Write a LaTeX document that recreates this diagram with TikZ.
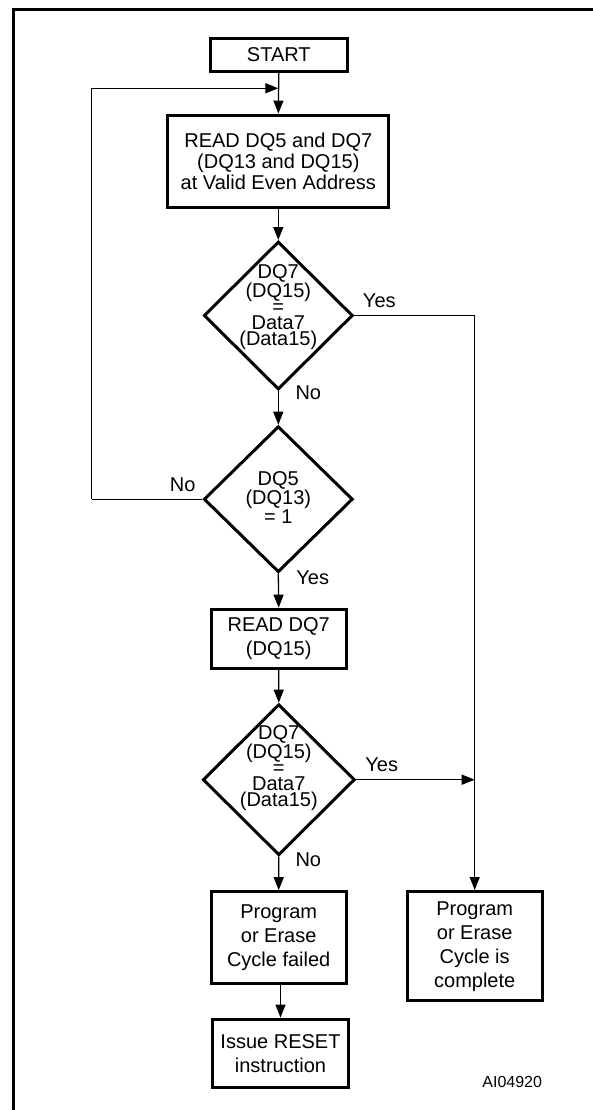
\documentclass[tikz,border=0pt]{standalone}
\usepackage{fontspec}
\setmainfont{Liberation Sans}
\usetikzlibrary{arrows.meta,shapes.geometric}
\begin{document}
\begin{tikzpicture}[x=1pt,y=-1pt,
  every node/.style={font=\fontsize{20}{24}\selectfont},
  stepbox/.style={draw,line width=3.3pt,inner sep=0pt,align=center},
  decision/.style={draw,diamond,line width=3pt,inner sep=0pt},
  dtext/.style={align=center,inner sep=0pt,font=\fontsize{20}{16}\selectfont},
  lbl/.style={inner sep=0pt},
  conn/.style={line width=1.3pt},
  arr/.style={conn,-{Triangle[length=13pt,width=10pt]}}
]
\useasboundingbox (0,0) rectangle (593,1110);
% frame
\draw[line width=2.8pt] (593,9.3) -- (13.3,9.3) -- (13.3,1110);

\node[stepbox,minimum width=137pt,minimum height=33pt] (start) at (278.8,55) {START};
\node[stepbox,minimum width=221pt,minimum height=92pt,font=\fontsize{20}{21}\selectfont] (read1) at (278.3,161.2) {READ DQ5 and DQ7\\(DQ13 and DQ15)\\at Valid Even Address};
\node[decision,minimum width=149pt,minimum height=148pt] (d1) at (278.3,315.5) {};
\node[dtext] (d1t) at (278.3,307) {DQ7\\(DQ15)\\=\\Data7\\(Data15)};
\node[decision,minimum width=149pt,minimum height=146pt] (d2) at (278.3,499.2) {};
\node[align=center,inner sep=0pt,font=\fontsize{20}{19.2}\selectfont] (d2t) at (278.3,497.5) {DQ5\\(DQ13)\\= 1};
\node[stepbox,minimum width=135pt,minimum height=59pt] (read2) at (278.7,638.8) {READ DQ7\\(DQ15)};
\node[decision,minimum width=152pt,minimum height=151pt] (d3) at (278.8,779.7) {};
\node[dtext] (d3t) at (278.8,768) {DQ7\\(DQ15)\\=\\Data7\\(Data15)};
\node[stepbox,minimum width=135pt,minimum height=92pt] (fail) at (278.7,937.8) {Program\\or Erase\\Cycle failed};
\node[stepbox,minimum width=136pt,minimum height=68pt] (reset) at (280.5,1053.3) {Issue RESET\\instruction};
\node[stepbox,minimum width=135pt,minimum height=109pt] (comp) at (474.7,946.2) {Program\\or Erase\\Cycle is\\complete};

\coordinate (join1) at (278.3,88.3);
\coordinate (loopb) at (91.7,499.2);
\coordinate (loopt) at (91.7,88.3);
\coordinate (yescorner) at (474.7,315.5);
\coordinate (join2) at (474.7,779.7);

\draw[arr] (start.south) -- (read1.north);
\draw[arr] (loopb) -- (loopt) -- (join1);
\draw[conn] (d2.west) -- (loopb);
\draw[arr] (read1.south) -- (d1.north);
\draw[arr] (d1.south) -- (d2.north);
\draw[arr] (d1.east) -- (yescorner) -- (comp.north);
\draw[arr] (d2.south) -- (read2.north);
\draw[arr] (read2.south) -- (d3.north);
\draw[arr] (d3.east) -- (join2);
\draw[arr] (d3.south) -- (fail.north);
\draw[arr] (reset.north |- fail.south) -- (reset.north);

\node[lbl] (y1) at (379.3,301) {Yes};
\node[lbl] (n1) at (308.3,392.7) {No};
\node[lbl] (n2) at (182.6,485) {No};
\node[lbl] (y2) at (312.7,577.3) {Yes};
\node[lbl] (y3) at (381.7,765) {Yes};
\node[lbl] (n3) at (308.3,859.3) {No};
\node[lbl,font=\fontsize{16}{18}\selectfont] (ai) at (512.2,1081.7) {AI04920};
\end{tikzpicture}
\end{document}
